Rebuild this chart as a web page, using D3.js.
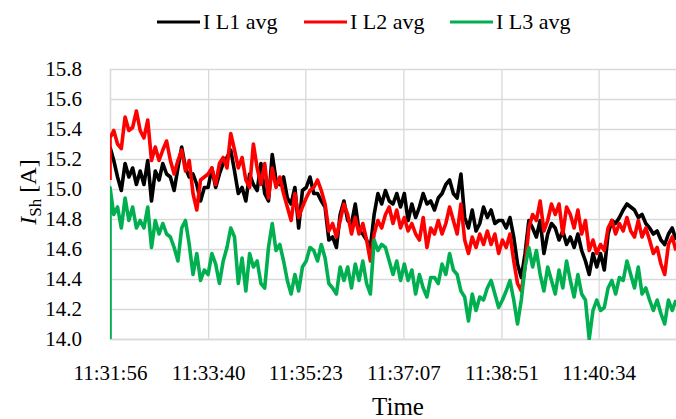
<!DOCTYPE html>
<html>
<head>
<meta charset="utf-8">
<script src="https://cdn.jsdelivr.net/npm/d3@7"></script>
<style>
  body { margin: 0; background: #fff; }
  svg { display: block; }
  svg text { font-family: "Palatino Linotype", "Book Antiqua", Palatino, "Liberation Serif", serif; }
</style>
</head>
<body>
<svg id="svg" width="676" height="419"></svg>
<script>
// data, one sample every 4 s starting 11:31:56
const startTime = "11:31:56";
const stepSeconds = 4;
const tickLabels = ["11:31:56", "11:33:40", "11:35:23", "11:37:07", "11:38:51", "11:40:34"];
const yTicks = [14.0, 14.2, 14.4, 14.6, 14.8, 15.0, 15.2, 15.4, 15.6, 15.8];
const seriesNames = ["I L1 avg", "I L2 avg", "I L3 avg"];
const seriesColors = ["#000000", "#ff0000", "#00b050"];

// first logged value (before the averaging settles)
const firstValues = [15.28, 15.06, 14.0];

const l1 = [
  15.28,15.19,15.08,14.99,15.17,15.08,15.14,15.03,15.12,15.03,15.19,14.92,15.12,15.06,15.17,15.10,15.08,14.99,15.14,15.28,15.14,15.08,15.10,15.03,14.92,15.01,
  15.01,15.14,15.01,15.10,15.17,15.21,15.26,15.12,14.97,15.01,14.92,15.10,15.03,14.99,15.17,14.97,14.92,15.23,15.06,15.03,15.08,14.94,14.90,15.01,14.74,14.99,
  15.01,15.08,14.97,14.97,14.92,14.88,14.66,14.68,14.61,14.83,14.92,14.79,14.77,14.90,14.72,14.70,14.66,14.61,14.83,14.97,14.90,14.99,14.92,14.90,14.97,14.88,
  14.97,14.79,14.90,14.81,14.88,14.97,14.90,14.92,14.86,14.94,14.97,15.03,15.06,14.97,14.94,15.10,14.81,14.74,14.86,14.72,14.77,14.88,14.81,14.86,14.77,14.79,
  14.79,14.74,14.81,14.68,14.50,14.41,14.57,14.79,14.74,14.68,14.79,14.57,14.70,14.77,14.74,14.66,14.72,14.63,14.68,14.61,14.70,14.59,14.52,14.43,14.57,14.48,
  14.57,14.46,14.70,14.79,14.77,14.81,14.86,14.90,14.88,14.86,14.81,14.83,14.77,14.74,14.70,14.72,14.66,14.63,14.70,14.74,14.66
];

const l2 = [
  15.34,15.39,15.30,15.27,15.48,15.39,15.41,15.52,15.39,15.34,15.46,15.19,15.28,15.19,15.26,15.32,15.19,15.10,15.19,15.26,15.12,15.19,14.97,14.86,15.06,15.08,
  15.10,15.14,15.03,15.17,15.21,15.14,15.37,15.26,15.14,15.21,15.06,15.01,15.30,15.14,15.03,15.17,14.94,15.14,15.01,15.08,14.97,14.88,14.79,14.97,14.81,14.88,
  14.94,14.99,15.01,15.06,14.99,14.90,14.72,14.77,14.68,14.79,14.90,14.83,14.70,14.81,14.70,14.77,14.66,14.52,14.70,14.79,14.74,14.83,14.88,14.77,14.86,14.74,
  14.81,14.72,14.77,14.70,14.66,14.81,14.61,14.74,14.70,14.79,14.70,14.77,14.88,14.79,14.70,14.90,14.66,14.57,14.68,14.61,14.70,14.63,14.72,14.63,14.70,14.57,
  14.66,14.61,14.70,14.52,14.37,14.32,14.48,14.74,14.83,14.79,14.92,14.72,14.79,14.90,14.83,14.90,14.70,14.88,14.83,14.74,14.86,14.70,14.79,14.59,14.66,14.57,
  14.63,14.59,14.74,14.79,14.70,14.77,14.72,14.81,14.72,14.68,14.79,14.68,14.74,14.66,14.57,14.61,14.50,14.43,14.63,14.68,14.59
];

const l3 = [
  15.01,14.83,14.88,14.74,14.94,14.79,14.88,14.74,14.79,14.74,14.88,14.61,14.79,14.70,14.77,14.70,14.68,14.61,14.52,14.74,14.79,14.63,14.43,14.57,14.39,14.46,
  14.43,14.57,14.50,14.37,14.52,14.61,14.74,14.68,14.37,14.54,14.32,14.57,14.48,14.52,14.37,14.34,14.61,14.77,14.59,14.63,14.52,14.39,14.30,14.43,14.32,14.48,
  14.52,14.61,14.59,14.52,14.63,14.54,14.37,14.34,14.30,14.48,14.39,14.48,14.34,14.50,14.39,14.52,14.37,14.30,14.66,14.59,14.63,14.61,14.52,14.43,14.52,14.39,
  14.50,14.39,14.46,14.30,14.43,14.34,14.28,14.41,14.41,14.37,14.50,14.43,14.57,14.46,14.43,14.32,14.28,14.12,14.30,14.19,14.28,14.26,14.34,14.39,14.30,14.21,
  14.26,14.32,14.39,14.26,14.10,14.26,14.48,14.61,14.48,14.59,14.43,14.32,14.48,14.39,14.30,14.46,14.34,14.52,14.39,14.28,14.43,14.30,14.26,14.00,14.19,14.26,
  14.19,14.21,14.34,14.39,14.30,14.41,14.39,14.52,14.43,14.34,14.48,14.30,14.34,14.26,14.19,14.26,14.17,14.10,14.26,14.19,14.26
];

const allSeries = [l1, l2, l3];

const parseTime = d3.timeParse("%H:%M:%S");
const t0 = parseTime(startTime);
const tEnd = d3.timeSecond.offset(t0, 600);

const plotLeft = 110, plotRight = 676, plotTop = 69, plotBottom = 339;

const x = d3.scaleTime().domain([t0, tEnd]).range([plotLeft, plotRight]);
const y = d3.scaleLinear().domain([14.0, 15.8]).range([plotBottom, plotTop]);

const svg = d3.select("#svg");

svg.append("defs").append("clipPath").attr("id", "plot-clip")
  .append("rect").attr("x", plotLeft).attr("y", plotTop - 5)
  .attr("width", plotRight - plotLeft).attr("height", plotBottom - plotTop + 6);

// grid
const tickDates = tickLabels.map(parseTime);

const yGrid = svg.append("g").attr("transform", `translate(${plotLeft},0)`)
  .call(d3.axisLeft(y).tickValues(yTicks).tickSize(-(plotRight - plotLeft)).tickFormat(""));
yGrid.select(".domain").remove();
yGrid.selectAll("line").attr("stroke", "#d9d9d9").attr("stroke-width", 1.3);

const xGrid = svg.append("g").attr("transform", `translate(0,${plotBottom})`)
  .call(d3.axisBottom(x).tickValues(tickDates).tickSize(-(plotBottom - plotTop)).tickFormat(""));
xGrid.select(".domain").attr("stroke", "#d9d9d9").attr("stroke-width", 1.3);
xGrid.selectAll("line").attr("stroke", "#d9d9d9").attr("stroke-width", 1.3);

// tick labels
const yAxis = svg.append("g").attr("transform", `translate(${plotLeft - 25},0)`)
  .call(d3.axisLeft(y).tickValues(yTicks).tickSize(0).tickFormat(d3.format(".1f")));
yAxis.select(".domain").remove();
yAxis.selectAll("text").attr("fill", "#000").style("font-size", "21px");

const xAxis = svg.append("g").attr("transform", `translate(0,${plotBottom + 23})`)
  .call(d3.axisBottom(x).tickValues(tickDates).tickSize(0).tickFormat(d3.timeFormat("%H:%M:%S")));
xAxis.select(".domain").remove();
xAxis.selectAll("text").attr("fill", "#000").style("font-size", "21px");

// lines
const line = d3.line()
  .x(d => x(d.t))
  .y(d => y(d.v));

const lines = svg.append("g").attr("clip-path", "url(#plot-clip)");
allSeries.forEach((vals, k) => {
  const pts = [{ t: t0, v: firstValues[k] }].concat(
    vals.map((v, i) => ({ t: d3.timeSecond.offset(t0, i * stepSeconds), v: v })));
  lines.append("path")
    .datum(pts)
    .attr("fill", "none")
    .attr("stroke", seriesColors[k])
    .attr("stroke-width", 3.6)
    .attr("stroke-linejoin", "round")
    .attr("d", line);
});

// axis titles
svg.append("text")
  .attr("x", 398).attr("y", 415)
  .attr("text-anchor", "middle")
  .attr("font-size", 25)
  .text("Time");

const yTitle = svg.append("text")
  .attr("transform", "translate(36,192) rotate(-90)")
  .attr("text-anchor", "middle")
  .attr("font-size", 24);
yTitle.append("tspan").attr("font-style", "italic").text("I");
yTitle.append("tspan").attr("font-size", 17).attr("dy", 5).text("Sh");
yTitle.append("tspan").attr("dy", -5).text(" [A]");

// legend
const legendX = [157, 304, 450];
const legend = svg.append("g");
seriesNames.forEach((name, k) => {
  legend.append("line")
    .attr("x1", legendX[k]).attr("x2", legendX[k] + 43)
    .attr("y1", 22).attr("y2", 22)
    .attr("stroke", seriesColors[k]).attr("stroke-width", 3);
  legend.append("text")
    .attr("x", legendX[k] + 46).attr("y", 29)
    .attr("font-size", 22)
    .text(name);
});
</script>
</body>
</html>
